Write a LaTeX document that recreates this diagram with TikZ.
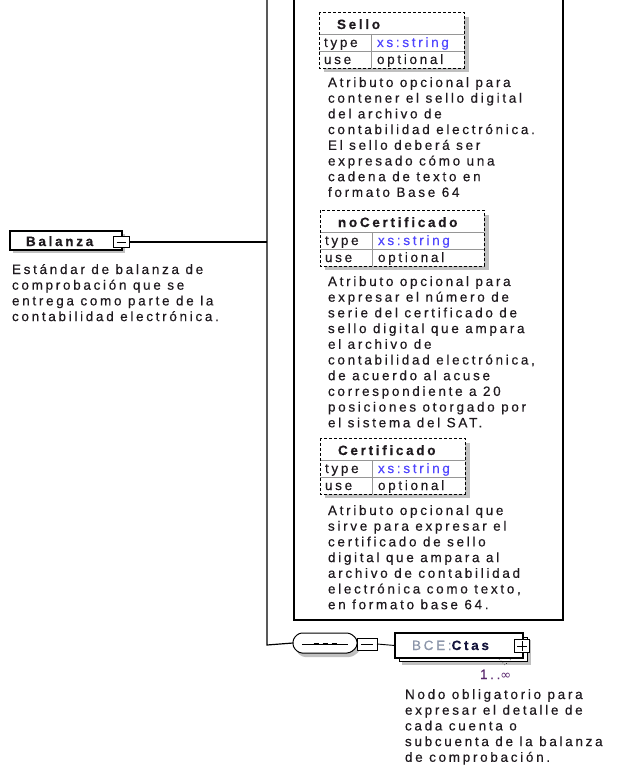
\documentclass[tikz,border=0pt]{standalone}
\usepackage{fontspec}
\setmainfont{Liberation Sans}
\newfontfamily\lsfont[LetterSpace=20,FakeBold=0.35]{Liberation Sans}
\newfontfamily\symfont{DejaVu Sans}
\definecolor{shadowgray}{RGB}{192,192,192}
\definecolor{gridgray}{RGB}{150,150,150}
\definecolor{typeblue}{RGB}{80,70,255}
\definecolor{prefixgray}{RGB}{140,150,170}
\definecolor{namenavy}{RGB}{20,20,60}
\definecolor{occpurple}{RGB}{90,40,110}
\definecolor{textdark}{RGB}{30,25,30}
\newcommand\fl{\rule{0pt}{12pt}}
\tikzset{
  txt/.style={inner sep=0pt, outer sep=0pt, text=textdark, font=\lsfont\fontsize{13.5}{15.7}\selectfont},
  desc/.style={txt, anchor=north west, align=left},
  ttl/.style={txt, anchor=base west, font=\lsfont\fontsize{13.5}{15.7}\selectfont\bfseries},
  cell/.style={txt, anchor=base west},
  frame/.style={inner sep=0pt, outer sep=0pt, fill=white},
  conn/.style={line width=1.2pt},
  expbox/.style={draw, fill=white, inner sep=0pt, outer sep=0pt, line width=0.9pt},
}
\newcommand\attrbox[5]{%
  \fill[shadowgray] (#2+5,#3+5) rectangle (#2+#4+5,#3+60);
  \node[frame, minimum width=#4pt, minimum height=56pt, anchor=north west] (#1) at (#2,#3) {};
  \draw[gridgray, line width=0.6pt] (#2,#3+22) -- (#2+#4,#3+22) (#2,#3+39) -- (#2+#4,#3+39) (#2+52,#3+22) -- (#2+52,#3+56);
  \draw[line width=0.9pt, dash pattern=on 3pt off 2pt] (#1.north west) rectangle (#1.south east);
  \node[ttl] (#1title) at (#2+18,#3+17) {#5};
  \node[cell] (#1type) at (#2+5,#3+35) {type};
  \node[cell, text=typeblue] (#1tval) at (#2+58,#3+35) {xs:string};
  \node[cell] (#1use) at (#2+5,#3+52) {use};
  \node[cell] (#1uval) at (#2+58,#3+52) {optional};
}
\begin{document}
\begin{tikzpicture}[x=1pt,y=-1pt]
\useasboundingbox[fill=white] (0,0) rectangle (623,765);

% attribute group frame
\draw[line width=1.2pt] (294,-5) rectangle (563,620);

% main trunk
\coordinate (top) at (267,-5);
\coordinate (bot) at (267,645);
\coordinate (junc) at (267,242);

% Balanza element
\fill[shadowgray] (13,234) rectangle (125,253);
\node[frame, draw, line width=1.2pt, minimum width=112pt, minimum height=19pt, anchor=north west] (bal) at (10,231) {};
\node[ttl] (baltitle) at (26,246) {Balanza};
\node[expbox, minimum width=16pt, minimum height=11pt] (balx) at (121,242) {};
\draw[line width=0.9pt] ([xshift=-4.5pt]balx.center) -- ([xshift=4.5pt]balx.center);
\draw[conn] (balx.east) -- (junc);
\node[desc] (baldesc) at (12,262) {\fl Estándar de balanza de\\comprobación que se\\entrega como parte de la\\contabilidad electrónica.};

% attributes
\attrbox{sello}{319}{12}{145}{Sello}
\node[desc] (sellodesc) at (328,75) {\fl Atributo opcional para\\contener el sello digital\\del archivo de\\contabilidad electrónica.\\El sello deberá ser\\expresado cómo una\\cadena de texto en\\formato Base 64};

\attrbox{nocert}{320}{210}{164}{noCertificado}
\node[desc] (nocertdesc) at (328,274) {\fl Atributo opcional para\\expresar el número de\\serie del certificado de\\sello digital que ampara\\el archivo de\\contabilidad electrónica,\\de acuerdo al acuse\\correspondiente a 20\\posiciones otorgado por\\el sistema del SAT.};

\attrbox{cert}{320}{438}{145}{Certificado}
\node[desc] (certdesc) at (328,503) {\fl Atributo opcional que\\sirve para expresar el\\certificado de sello\\digital que ampara al\\archivo de contabilidad\\electrónica como texto,\\en formato base 64.};

% sequence compositor
\fill[shadowgray, rounded corners=3pt] (302,637) -- (352,637) -- (360,643) -- (360,651) -- (352,657) -- (302,657) -- (296,651) -- (296,643) -- cycle;
\draw[line width=1pt, fill=white, rounded corners=3pt] (299,633) -- (350,633) -- (357,639) -- (357,647) -- (350,653) -- (299,653) -- (293,647) -- (293,639) -- cycle;
\coordinate (seq) at (293,643);
\coordinate (seqc) at (325,644);
\draw[line width=0.7pt] ([xshift=-23pt]seqc) -- ([xshift=23pt]seqc);
\draw[line width=2.6pt, dash pattern=on 5pt off 4pt] ([xshift=-11.5pt]seqc) -- ([xshift=11.5pt]seqc);
\node[expbox, minimum width=20pt, minimum height=12pt] (seqx) at (367,644) {};
\draw[line width=0.9pt] ([xshift=-6pt]seqx.center) -- ([xshift=6pt]seqx.center);

\draw[conn] (top) -- (bot) -- (seq);

% BCE:Ctas element
\fill[shadowgray] (402,640) rectangle (531,665);
\draw[line width=0.9pt, fill=white] (399,637) rectangle (527,661);
\node[frame, draw, line width=1.2pt, minimum width=128pt, minimum height=25pt, anchor=north west] (ctas) at (395,633) {};
\node[cell] (ctastitle) at (412,650) {\textcolor{prefixgray}{BCE:}\textcolor{namenavy}{\bfseries Ctas}};
\node[expbox, minimum width=15pt, minimum height=13pt] (ctasx) at (522,646) {};
\draw[line width=0.9pt] ([xshift=-5pt]ctasx.center) -- ([xshift=5pt]ctasx.center) ([yshift=-5pt]ctasx.center) -- ([yshift=5pt]ctasx.center);
\draw[line width=0.6pt, dotted] (499,659) -- (505,665) -- (511,659);
\draw[line width=0.9pt] (seqx.east) -- (ctas.west);
\node[cell, text=occpurple] (occ) at (480,679) {1..{\symfont\fontsize{13}{14}\selectfont ∞}};
\node[desc] (ctasdesc) at (405,687) {\fl Nodo obligatorio para\\expresar el detalle de\\cada cuenta o\\subcuenta de la balanza\\de comprobación.};
\end{tikzpicture}
\end{document}
